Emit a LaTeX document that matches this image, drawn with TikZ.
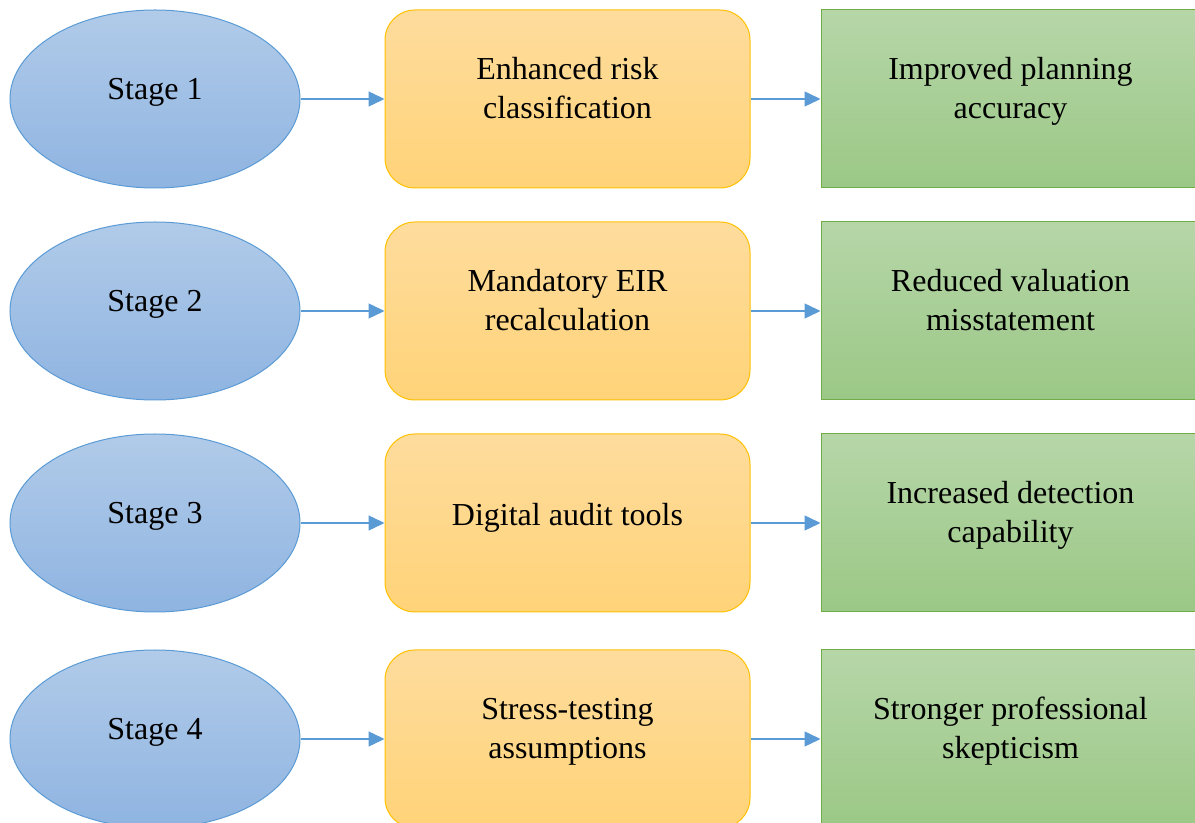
\documentclass[tikz,border=0pt]{standalone}
\usepackage{fontspec}
\setmainfont{Liberation Serif}
\usetikzlibrary{shapes.geometric,arrows.meta}
\definecolor{stageline}{HTML}{5B9BD5}
\definecolor{stagetop}{HTML}{B1CBE9}
\definecolor{stagebot}{HTML}{8FB4E1}
\definecolor{measline}{HTML}{FFC000}
\definecolor{meastop}{HTML}{FEDC9D}
\definecolor{measbot}{HTML}{FFD378}
\definecolor{effline}{HTML}{70AD47}
\definecolor{efftop}{HTML}{B6D6A8}
\definecolor{effbot}{HTML}{9BC886}
\begin{document}
\begin{tikzpicture}[x=0.5pt,y=-0.5pt,
    txt/.style={font=\fontsize{16}{19.5}\selectfont,align=center,yshift=#1,
      execute at begin node=\strut,execute at end node=\strut},
    txt/.default=3.5pt,
    stage/.style={ellipse,draw=stageline,line width=0.5pt,top color=stagetop,bottom color=stagebot,minimum width=145pt,minimum height=89pt,inner sep=0pt},
    measure/.style={rectangle,rounded corners=15pt,draw=measline,line width=0.5pt,top color=meastop,bottom color=measbot,minimum width=182.5pt,minimum height=89pt,inner sep=0pt},
    effect/.style={rectangle,draw=effline,line width=0.5pt,top color=efftop,bottom color=effbot,minimum width=189.5pt,minimum height=89pt,inner sep=0pt},
    link/.style={draw=stageline,line width=0.75pt,-{Triangle[length=8pt,width=7.5pt]}}]
  \useasboundingbox (0,0) rectangle (1195,823);
  \fill[white] (0,0) rectangle (1195,823);
  \foreach \i/\y/\mtext/\etext in {1/99/{Enhanced risk\\classification}/{Improved planning\\accuracy},
      2/311/{Mandatory EIR\\recalculation}/{Reduced valuation\\misstatement},
      3/523/{Digital audit tools}/{Increased detection\\capability},
      4/739/{Stress-testing\\assumptions}/{Stronger professional\\skepticism}}{
    \node[stage,label={[txt]center:Stage \i}] (s\i) at (155,\y) {};
    \node[measure,label={[txt=2.5pt]center:\mtext}] (m\i) at (567.5,\y) {};
    \node[effect,label={[txt=2.5pt]center:\etext}] (e\i) at (1010.5,\y) {};
    \draw[link] (s\i) -- (m\i);
    \draw[link] (m\i) -- (e\i);
  }
\end{tikzpicture}
\end{document}
